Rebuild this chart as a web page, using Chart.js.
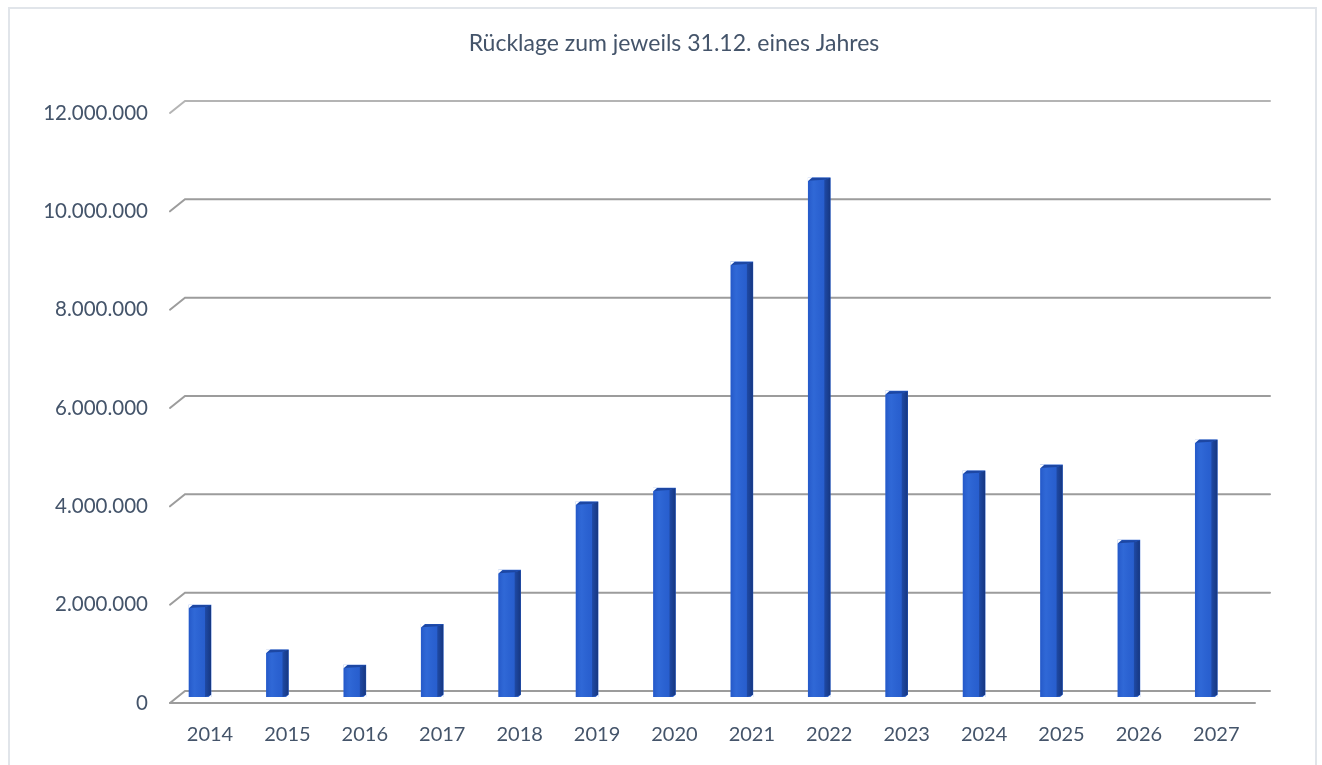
<!DOCTYPE html>
<html>
<head>
<meta charset="utf-8">
<script src="https://cdn.jsdelivr.net/npm/chart.js@4.4.1/dist/chart.umd.min.js"></script>
<style>
  html, body { margin: 0; padding: 0; background: #ffffff; }
  canvas { display: block; }
</style>
</head>
<body>
<canvas id="c" width="1322" height="765"></canvas>
<script>
// ---- data ----
const chartTitle = 'Rücklage zum jeweils 31.12. eines Jahres';
const categories = ['2014','2015','2016','2017','2018','2019','2020','2021','2022','2023','2024','2025','2026','2027'];
const reserveValues = [1870000, 960000, 650000, 1480000, 2580000, 3970000, 4250000, 8850000, 10560000, 6220000, 4600000, 4720000, 3190000, 5230000];
const yTickValues = [0, 2000000, 4000000, 6000000, 8000000, 10000000, 12000000];

const TEXT = '#44546A';
const FONT = 'Lato, "Open Sans", sans-serif';

function fmt(v) {
  return String(Math.round(v)).replace(/\B(?=(\d{3})+(?!\d))/g, '.');
}

const framePlugin = {
  id: 'frame',
  beforeDraw(chart) {
    const ctx = chart.ctx;
    ctx.save();
    ctx.fillStyle = '#ffffff';
    ctx.fillRect(0, 0, chart.width, chart.height);
    ctx.strokeStyle = '#e1e5ea';
    ctx.lineWidth = 2;
    ctx.strokeRect(9, 8, 1307, 820);
    ctx.restore();
  },
  beforeDatasetsDraw(chart) {
    const ctx = chart.ctx;
    const ys = chart.scales.y;
    const area = chart.chartArea;
    const depthX = 15, half = 6;
    const xFront = area.left + 8.7;
    const xBack = xFront + depthX;
    const xRight = area.right + 25;
    ctx.save();
    ctx.lineCap = 'round';
    yTickValues.forEach(v => {
      const y = ys.getPixelForValue(v);
      const yb = y - half, yf = y + half;
      ctx.strokeStyle = v === 12000000 ? '#b4b4b4' : '#9c9c9c';
      ctx.lineWidth = 2;
      ctx.beginPath();
      ctx.moveTo(xFront, yf);
      ctx.lineTo(xBack, yb);
      ctx.lineTo(xRight, yb);
      ctx.stroke();
      if (v === 0) {
        ctx.beginPath();
        ctx.moveTo(xFront, yf);
        ctx.lineTo(xRight - depthX, yf);
        ctx.stroke();
      }
    });
    ctx.restore();
  },
  afterDatasetsDraw(chart) {
    const ctx = chart.ctx;
    const meta = chart.getDatasetMeta(0);
    ctx.save();
    meta.data.forEach(bar => {
      const p = bar.getProps(['x', 'y', 'base', 'width'], true);
      const x0 = p.x - p.width / 2, x1 = p.x + p.width / 2;
      const top = p.y, bot = p.base;
      const side = 6;
      const gF = ctx.createLinearGradient(x0, 0, x1 - side, 0);
      gF.addColorStop(0, 'rgba(20,60,170,0.25)');
      gF.addColorStop(0.35, 'rgba(80,140,240,0.15)');
      gF.addColorStop(1, 'rgba(20,60,170,0.10)');
      ctx.fillStyle = gF;
      ctx.fillRect(x0, top, p.width - side, bot - top);
      const gS = ctx.createLinearGradient(x1 - side, 0, x1, 0);
      gS.addColorStop(0, '#1f4aa6');
      gS.addColorStop(1, '#163781');
      ctx.fillStyle = gS;
      ctx.beginPath();
      ctx.moveTo(x1 - side, top + 2);
      ctx.lineTo(x1, top);
      ctx.lineTo(x1, bot - 2);
      ctx.lineTo(x1 - side, bot);
      ctx.closePath();
      ctx.fill();
      ctx.fillStyle = '#1d47a3';
      ctx.beginPath();
      ctx.moveTo(x0, top + 3);
      ctx.lineTo(x0 + 4, top);
      ctx.lineTo(x1, top);
      ctx.lineTo(x1 - side, top + 2);
      ctx.lineTo(x0, top + 3);
      ctx.closePath();
      ctx.fill();
      ctx.fillStyle = '#ffffff';
      ctx.beginPath();
      ctx.moveTo(x0 - 0.5, top - 0.5);
      ctx.lineTo(x0 + 4, top - 0.5);
      ctx.lineTo(x0 - 0.5, top + 3.5);
      ctx.closePath();
      ctx.fill();
      ctx.beginPath();
      ctx.moveTo(x1 + 0.5, bot + 0.5);
      ctx.lineTo(x1 + 0.5, bot - 2.5);
      ctx.lineTo(x1 - 3, bot + 0.5);
      ctx.closePath();
      ctx.fill();
    });
    ctx.restore();
  }
};

new Chart(document.getElementById('c'), {
  type: 'bar',
  data: {
    labels: categories,
    datasets: [{
      label: 'Rücklage',
      data: reserveValues,
      backgroundColor: '#2a62d2',
      borderWidth: 0,
      barThickness: 22,
      yAxisID: 'y'
    }]
  },
  options: {
    responsive: false,
    devicePixelRatio: 1,
    animation: false,
    layout: { padding: { left: 26, right: 0, top: 0, bottom: 17.4 } },
    plugins: {
      legend: { display: false },
      tooltip: { enabled: false },
      title: {
        display: true,
        text: chartTitle,
        color: TEXT,
        font: { family: FONT, size: 23, weight: 'normal', lineHeight: 1.2 },
        padding: { top: 30.2, bottom: 49.2 },
        align: 'center'
      }
    },
    scales: {
      x: {
        grid: { display: false, drawTicks: false },
        border: { display: false },
        afterFit(s) { s.height = 50.6; },
        ticks: {
          color: TEXT,
          font: { family: FONT, size: 20 },
          padding: 25.4,
          labelOffset: 10,
          maxRotation: 0,
          autoSkip: false
        }
      },
      y: {
        min: 0,
        max: 12000000,
        grid: { display: false, drawTicks: false },
        border: { display: false },
        afterFit(s) { s.width = 135.3; },
        afterBuildTicks(s) { s.ticks = yTickValues.map(v => ({ value: v })); },
        ticks: {
          color: TEXT,
          font: { family: FONT, size: 20.5 },
          padding: 13.3,
          labelOffset: 6,
          callback: v => fmt(v)
        }
      },
      yRight: {
        position: 'right',
        min: 0,
        max: 12000000,
        grid: { display: false, drawTicks: false },
        border: { display: false },
        ticks: { display: false },
        afterFit(s) { s.width = 77; }
      }
    }
  },
  plugins: [framePlugin]
});
</script>
</body>
</html>
